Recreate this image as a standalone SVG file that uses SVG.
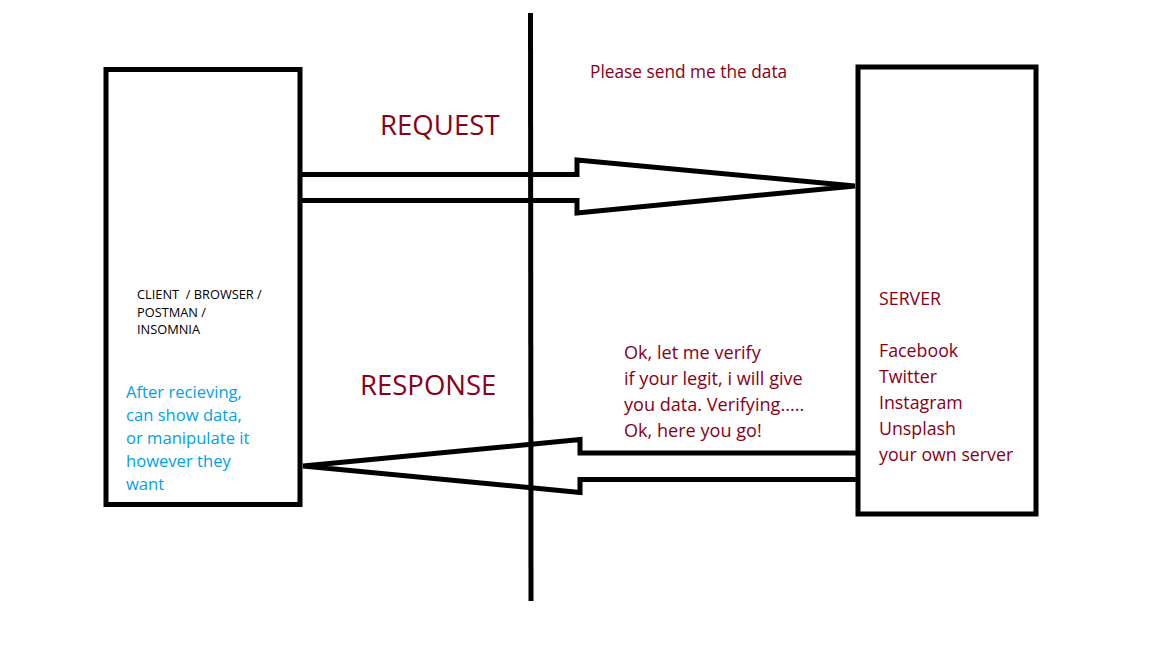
<svg xmlns="http://www.w3.org/2000/svg" width="1152" height="648" viewBox="0 0 1152 648">
<style>
.box{fill:#fff;stroke:#000;stroke-width:5}
.ln{fill:none;stroke:#000;stroke-width:5;stroke-linejoin:miter}
.t{font-family:"Open Sans","Noto Sans",sans-serif}
.red{fill:#880015}
.blue{fill:#00a2e8}
.blk{fill:#000}
</style>
<rect width="1152" height="648" fill="#fff"/>
<g id="client">
<rect class="box" x="106" y="69.5" width="194" height="435"/>
<text class="t blk" font-size="12.8"><tspan x="137" y="299">CLIENT&#160; / BROWSER /</tspan><tspan x="137" y="316.5">POSTMAN /</tspan><tspan x="137" y="334">INSOMNIA</tspan></text>
<text class="t blue" font-size="16.6"><tspan x="126" y="398">After recieving,</tspan><tspan x="126" y="421">can show data,</tspan><tspan x="126" y="444">or manipulate it</tspan><tspan x="126" y="467">however they</tspan><tspan x="126" y="490">want</tspan></text>
</g>
<g id="server">
<rect class="box" x="858" y="67" width="178" height="447"/>
<text class="t red" font-size="17.8"><tspan x="879" y="305">SERVER</tspan><tspan x="879" y="357">Facebook</tspan><tspan x="879" y="383">Twitter</tspan><tspan x="879" y="409">Instagram</tspan><tspan x="879" y="435">Unsplash</tspan><tspan x="879" y="461">your own server</tspan></text>
</g>
<g id="connectors">
<path class="ln" d="M300 174.5 H577 V160 L855 186 L577 213 V200.5 H300"/>
<path class="ln" d="M857 453 H580 V439.5 L303 466 L580 492.5 V479.5 H857"/>
<line class="ln" x1="530.5" y1="13" x2="531" y2="601"/>
</g>
<g id="labels">
<text class="t red" font-size="17.3" x="590" y="78">Please send me the data</text>
<text class="t red" font-size="27.6" x="380" y="135">REQUEST</text>
<text class="t red" font-size="27.5" x="360" y="395">RESPONSE</text>
<text class="t red" font-size="18.1"><tspan x="624" y="359">Ok, let me verify</tspan><tspan x="624" y="385">if your legit, i will give</tspan><tspan x="624" y="411">you data. Verifying.....</tspan><tspan x="624" y="437">Ok, here you go!</tspan></text>
</g>
</svg>
